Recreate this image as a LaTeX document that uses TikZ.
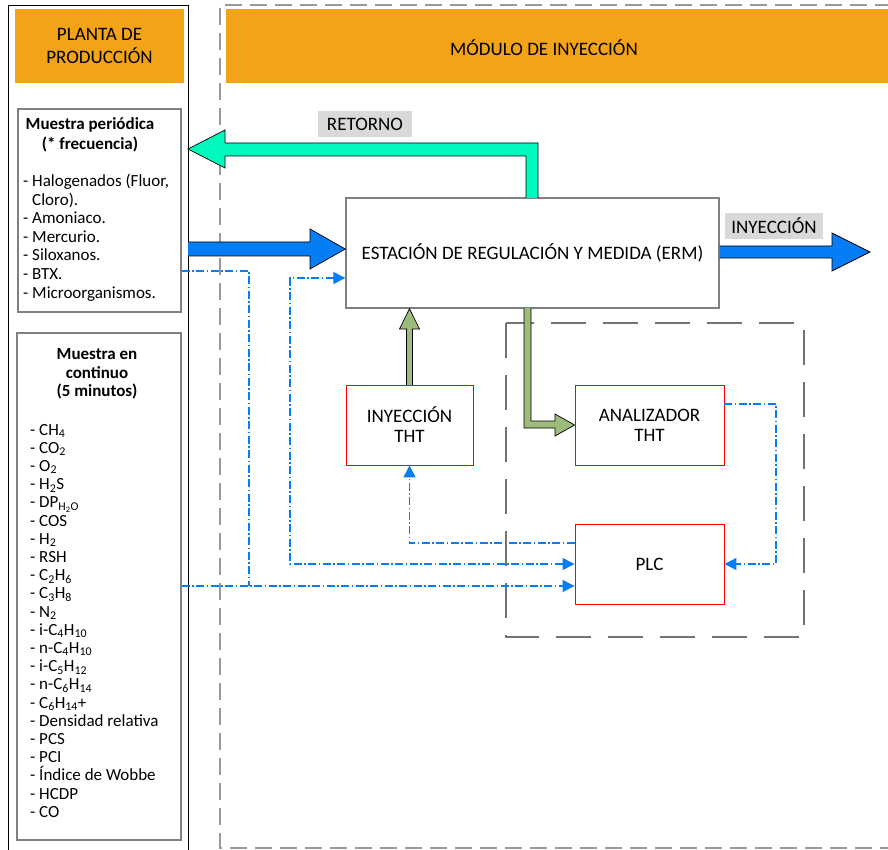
\documentclass[tikz,border=0pt]{standalone}
\usepackage{fontspec}
\setmainfont{Carlito}
\usetikzlibrary{arrows.meta,calc}
\definecolor{hdrorange}{RGB}{243,163,24}
\definecolor{flowblue}{RGB}{5,125,245}
\definecolor{retaqua}{RGB}{0,250,190}
\definecolor{thtgreen}{RGB}{157,187,122}
\definecolor{boxgray}{RGB}{128,128,128}
\definecolor{lblgray}{RGB}{217,217,217}
\newcommand{\bigtxt}{\fontsize{19}{20}\selectfont}
\newcommand{\smalltxt}{\fontsize{17}{18}\selectfont}

\begin{document}
\begin{tikzpicture}[x=1pt, y=-1pt,
    every node/.style={font=\bigtxt, inner sep=0pt},
    hdr/.style={fill=hdrorange},
    graybox/.style={draw=boxgray, line width=1.4pt, fill=white},
    redbox/.style={draw=red, line width=0.9pt, fill=white, align=center},
    lbl/.style={fill=lblgray, minimum height=26pt},
    item/.style={font=\smalltxt, anchor=base west},
    ttl/.style={font=\fontsize{17}{19.5}\selectfont\bfseries, align=center},
    blockarr/.style={draw=black, line width=0.7pt},
    ctrl/.style={flowblue, line width=1.3pt,
                 dash pattern=on 8pt off 2.5pt on 1.5pt off 2.5pt,
                 -{Triangle[length=12pt,width=12pt]}},
    outdash/.style={gray!80, line width=1.3pt, dash pattern=on 17pt off 8pt},
    indash/.style={gray!90!black, line width=2pt, dash pattern=on 35pt off 17pt}]

  \useasboundingbox (0,0) rectangle (888,850);

  % column frames
  \draw[line width=0.8pt] (8,852) -- (8,5) -- (188,5) -- (188,852);
  \draw[outdash] (892,5) -- (220,5) -- (220,848) -- (892,848);

  % headers
  \node[hdr, minimum width=169pt, minimum height=74pt, align=center] (planta)
       at (99.5,46) {PLANTA DE\\[3pt]PRODUCCIÓN};
  \fill[hdrorange] (226,9) rectangle (892,83);
  \node (modulo) at (544,48) {MÓDULO DE INYECCIÓN};

  % sample boxes
  \node[graybox, minimum width=163pt, minimum height=203pt] (per) at (99.5,210.5) {};
  \node[graybox, minimum width=164pt, minimum height=507pt] (cont) at (99,586.5) {};

  \node[ttl] (perTtl) at (90,135) {Muestra periódica\\(* frecuencia)};
  \foreach \t [count=\i] in {{- Halogenados (Fluor,}, \phantom{- }Cloro).,
      - Amoniaco., - Mercurio., - Siloxanos., - BTX., - Microorganismos.}
    \node[item] (per\i) at (23,{187+(\i-1)*18.5}) {\t};

  \node[ttl, font=\fontsize{17}{18.5}\selectfont\bfseries] (contTtl) at (97,374)
       {Muestra en\\continuo\\(5 minutos)};
  \foreach \t [count=\i] in {- CH\textsubscript{4}, - CO\textsubscript{2},
      - O\textsubscript{2}, - H\textsubscript{2}S, - DP\textsubscript{H\textsubscript{2}O},
      - COS, - H\textsubscript{2}, - RSH, - C\textsubscript{2}H\textsubscript{6},
      - C\textsubscript{3}H\textsubscript{8}, - N\textsubscript{2},
      - i-C\textsubscript{4}H\textsubscript{10}, - n-C\textsubscript{4}H\textsubscript{10},
      - i-C\textsubscript{5}H\textsubscript{12}, - n-C\textsubscript{6}H\textsubscript{14},
      - C\textsubscript{6}H\textsubscript{14}+, - Densidad relativa, - PCS, - PCI,
      - Índice de Wobbe, - HCDP, - CO}
    \node[item] (cont\i) at (30,{435+(\i-1)*18.2}) {\t};

  % injection module
  \node[graybox, minimum width=373pt, minimum height=110pt] (erm) at (532.5,253)
       {ESTACIÓN DE REGULACIÓN Y MEDIDA (ERM)};
  \draw[indash] (506,323) rectangle (804,637);
  \node[redbox, minimum width=127pt, minimum height=80pt] (inyTHT) at (409.5,425) {INYECCIÓN\\THT};
  \node[redbox, minimum width=149pt, minimum height=80pt] (anaTHT) at (649.5,425) {ANALIZADOR\\THT};
  \node[redbox, minimum width=149pt, minimum height=80pt] (plc) at (649.5,564) {PLC};

  % gas flows
  \path[blockarr, fill=flowblue] (188,242) -- (310,242) -- (310,229)
       -- (erm.west |- 0,249) -- (310,269) -- (310,256) -- (188,256);
  \path[blockarr, fill=retaqua] (538,198) -- (538,143) -- (225,143) -- (225,130)
       -- (188,149) -- (225,168) -- (225,156) -- (526,156) -- (526,198);
  \path[blockarr, fill=flowblue] (erm.east |- 0,246) -- (832,246) -- (832,233)
       -- (870,252) -- (832,271) -- (832,258) -- (erm.east |- 0,258);
  \path[blockarr, fill=thtgreen] (406.5,385) -- (406.5,329) -- (399.5,329)
       -- (inyTHT.north |- erm.south) -- (419.5,329) -- (412.5,329) -- (412.5,385);
  \path[blockarr, fill=thtgreen] (531,308) -- (531,421) -- (555,421) -- (555,414)
       -- (anaTHT.west) -- (555,436) -- (555,428) -- (524,428) -- (524,308);

  \node[lbl, minimum width=94pt] (retorno) at (365,124) {RETORNO};
  \node[lbl, minimum width=98pt] (inyLbl) at (774,226) {INYECCIÓN};

  % signals
  \draw[ctrl, -] (per.east |- 0,271) -- (249,271) -- (249,586);
  \draw[ctrl] (cont.east |- 0,586) -- (plc.west |- 0,586);
  \draw[ctrl, {Triangle[length=12pt,width=12pt]}-{Triangle[length=12pt,width=12pt]}]
       (erm.west |- 0,278) -| (290,564) -- (plc.west |- 0,564);
  \draw[ctrl] (plc.west |- 0,543) -| (inyTHT.south);
  \draw[ctrl] (anaTHT.east |- 0,404) -| (776,564) -- (plc.east);
\end{tikzpicture}
\end{document}
